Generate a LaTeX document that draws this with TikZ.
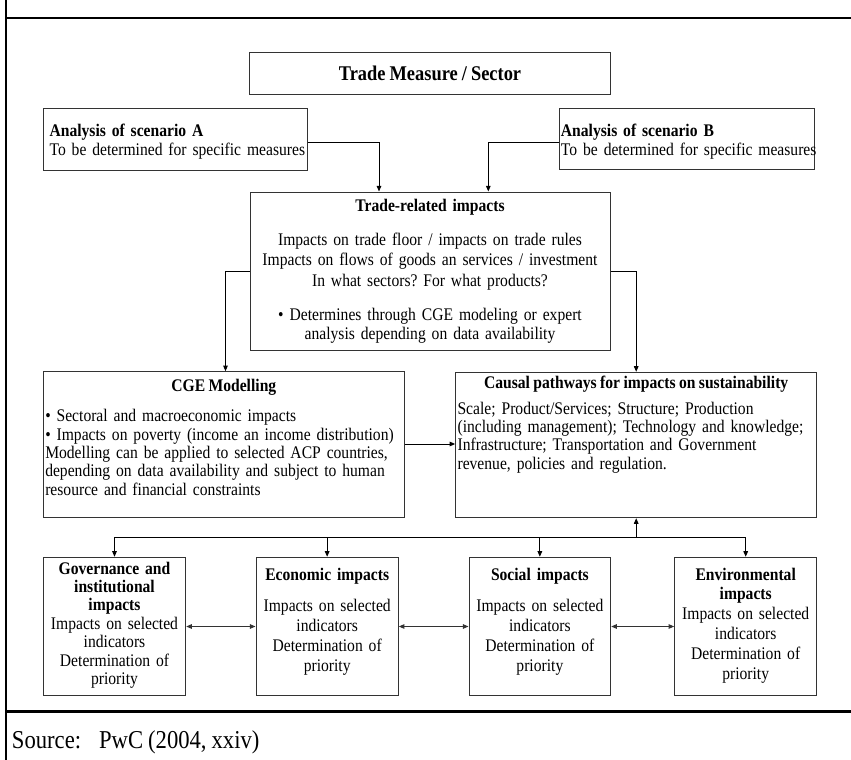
\documentclass[tikz,border=0pt]{standalone}
\usepackage{fontspec}
\setmainfont{Liberation Serif}[FakeStretch=0.88,WordSpace=0.88]
\usetikzlibrary{arrows.meta,fit}
\frenchspacing
\begin{document}
\begin{tikzpicture}[x=0.75pt,y=-0.75pt,
  box/.style={draw=black!80,line width=0.75pt,inner sep=0pt,rectangle},
  txt/.style={inner sep=0pt,font=\fontsize{13.3}{13.8}\selectfont},
  ctxt/.style={txt,align=center,anchor=base},
  ltxt/.style={txt,align=left,anchor=base west},
  arr/.style={draw=black,line width=0.75pt,-{Triangle[length=4.2pt,width=3.4pt]}},
  darr/.style={draw=black!80,line width=0.75pt,{Triangle[length=4.2pt,width=3.4pt]}-{Triangle[length=4.2pt,width=3.4pt]}},
  busline/.style={draw=black,line width=0.75pt},
  frame/.style={draw=black,line width=1.75pt}]
\useasboundingbox (0,0) rectangle (851,760);

% frame
\draw[frame] (6,0) -- (6,760);
\draw[frame] (6,18) -- (851,18);
\draw[frame] (6,711.5) -- (851,711.5);

% boxes
\node[box,fit={(249,52.7) (610,94)}] (tm) {};
\node[box,fit={(43.3,108) (307,170)}] (sa) {};
\node[box,fit={(559,108.3) (814,169.5)}] (sb) {};
\node[box,fit={(250,192) (610,350.7)}] (tr) {};
\node[box,fit={(43.3,371.7) (404.3,517.5)}] (cge) {};
\node[box,fit={(455.7,372.3) (816.7,517.7)}] (cau) {};
\node[box,fit={(43.3,557.3) (185.7,695.7)}] (gov) {};
\node[box,fit={(256,557.3) (398.3,695.7)}] (eco) {};
\node[box,fit={(469,557.3) (610.7,695.7)}] (soc) {};
\node[box,fit={(674.7,557.3) (816.7,695.7)}] (env) {};

% texts
\node[txt,anchor=base,font=\fontsize{15.7}{16}\selectfont\bfseries] (tmt) at (430,80) {Trade Measure / Sector};
\node[ltxt,text width=230pt] (sat) at (49.3,136.7) {\textbf{Analysis of scenario A}\\To be determined for specific measures};
\node[ltxt,text width=230pt] (sbt) at (560.7,136.7) {\textbf{Analysis of scenario B}\\To be determined for specific measures};
\node[ctxt,text width=300pt] (trt) at (430,211.7) {\textbf{Trade-related impacts}\\[11.7pt]
Impacts on trade floor / impacts on trade rules\\[1.4pt]
Impacts on flows of goods an services / investment\\[1.5pt]
In what sectors? For what products?\\[12.1pt]
• Determines through CGE modeling or expert\\
analysis depending on data availability};
\node[ctxt] (cgt) at (223.8,391.7) {\textbf{CGE Modelling}};
\node[ltxt,text width=300pt] (cgb) at (45,421.7) {• Sectoral and macroeconomic impacts\\
• Impacts on poverty (income an income distribution)\\
Modelling can be applied to selected ACP countries,\\
depending on data availability and subject to human\\
resource and financial constraints};
\node[ctxt] (cat) at (636.2,388.3) {\textbf{Causal pathways for impacts on sustainability}};
\node[ltxt,text width=300pt] (cab) at (457.3,414) {Scale; Product/Services; Structure; Production\\
(including management); Technology and knowledge;\\
Infrastructure; Transportation and Government\\
revenue, policies and regulation.};
\node[ctxt,text width=140pt] (govt) at (114.5,574) {\textbf{Governance and}\\\textbf{institutional}\\\textbf{impacts}\\Impacts on selected\\indicators\\Determination of\\priority};
\node[ctxt,text width=140pt,font=\fontsize{13.3}{15}\selectfont] (ecot) at (327.2,580) {\textbf{Economic impacts}\\[8.6pt]Impacts on selected\\indicators\\Determination of\\priority};
\node[ctxt,text width=140pt,font=\fontsize{13.3}{15}\selectfont] (soct) at (539.9,580) {\textbf{Social impacts}\\[8.6pt]Impacts on selected\\indicators\\Determination of\\priority};
\node[ctxt,text width=140pt,font=\fontsize{13.3}{14.9}\selectfont] (envt) at (745.7,580) {\textbf{Environmental}\\\textbf{impacts}\\Impacts on selected\\indicators\\Determination of\\priority};
\node[txt,anchor=base west,font=\fontsize{19.3}{22}\selectfont] (src) at (11.7,748) {Source:\hspace{13.5pt}PwC (2004, xxiv)};

% connectors
\coordinate (ca) at (379,142.7);
\coordinate (cb) at (488.3,142.7);
\coordinate (cl) at (225.5,271);
\coordinate (cr) at (636.2,271);
\coordinate (cm) at (430,444);
\coordinate (bus) at (636.2,537.3);
\draw[arr] (sa.east |- ca) -| (ca |- tr.north);
\draw[arr] (sb.west |- cb) -| (cb |- tr.north);
\draw[arr] (tr.west |- cl) -| (cl |- cge.north);
\draw[arr] (tr.east |- cr) -| (cr |- cau.north);
\draw[arr] (cge.east |- cm) -- (cau.west |- cm);
\draw[arr] (bus) -- (bus |- cau.south);
\draw[busline] (gov.north |- bus) -- (env.north |- bus);
\draw[arr] (gov.north |- bus) -- (gov.north);
\draw[arr] (eco.north |- bus) -- (eco.north);
\draw[arr] (soc.north |- bus) -- (soc.north);
\draw[arr] (env.north |- bus) -- (env.north);
\draw[darr] (gov.east) -- (eco.west);
\draw[darr] (eco.east) -- (soc.west);
\draw[darr] (soc.east) -- (env.west);
\end{tikzpicture}
\end{document}
